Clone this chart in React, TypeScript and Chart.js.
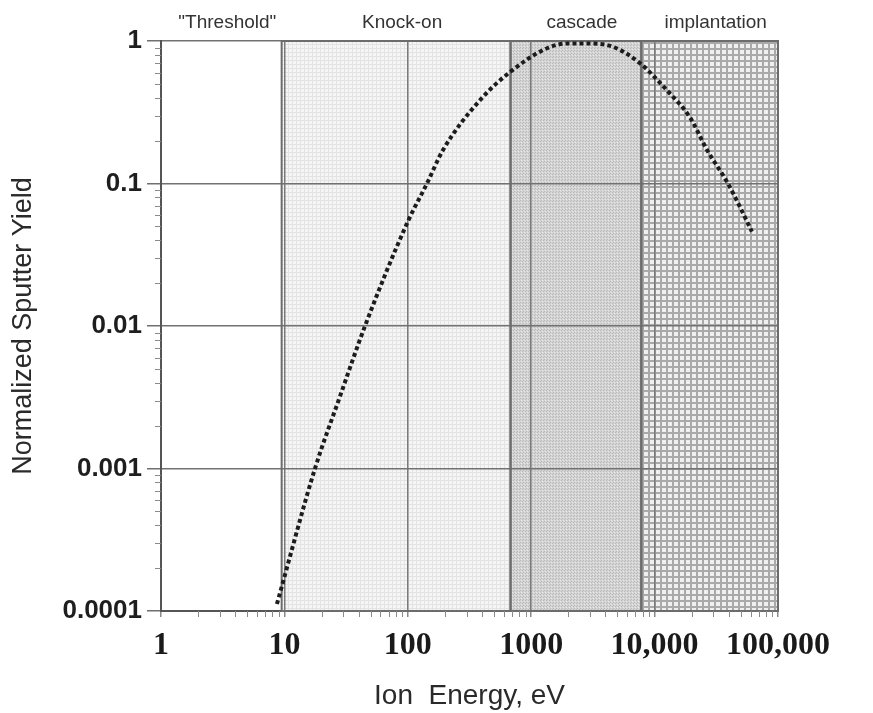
import React, { useEffect, useRef } from "react";
import { Chart, registerables } from "chart.js";

Chart.register(...registerables);

// ---- data ----
const energy = [8.7, 17.7, 28.2, 45, 100, 143, 193, 385, 673, 1343, 1950, 2990, 4600, 7590, 12600, 19400, 26600, 39300, 61500];
const sputterYield = [0.000112, 0.001, 0.0032, 0.01, 0.054, 0.1, 0.172, 0.385, 0.605, 0.89, 0.96, 0.96, 0.91, 0.7, 0.45, 0.29, 0.172, 0.1, 0.046];

const xTickValues = [1, 10, 100, 1000, 10000, 100000];
const xTickLabels = ["1", "10", "100", "1000", "10,000", "100,000"];
const yTickValues = [0.0001, 0.001, 0.01, 0.1, 1];
const yTickLabels = ["0.0001", "0.001", "0.01", "0.1", "1"];
const minorMultipliers = [2, 3, 4, 5, 6, 7, 8, 9];

const regionNames = ['"Threshold"', "Knock-on", "cascade", "implantation"];
const regionStarts = [1, 9.5, 680, 7800];
const regionEnds = [9.5, 680, 7800, 100000];

function makePattern(ctx: CanvasRenderingContext2D, kind: string): CanvasPattern | null {
  const c = document.createElement("canvas");
  const g = c.getContext("2d")!;
  if (kind === "knock") {
    c.width = 4; c.height = 4;
    g.fillStyle = "#f5f5f5"; g.fillRect(0, 0, 4, 4);
    g.fillStyle = "#e3e3e3"; g.fillRect(0, 0, 4, 1); g.fillRect(0, 0, 1, 4);
  } else if (kind === "cascade") {
    c.width = 3; c.height = 3;
    g.fillStyle = "#d4d4d4"; g.fillRect(0, 0, 3, 3);
    g.fillStyle = "#b9b9b9"; g.fillRect(0, 0, 1, 1); g.fillRect(1, 2, 1, 1);
    g.fillStyle = "#e6e6e6"; g.fillRect(2, 1, 1, 1);
  } else {
    c.width = 6; c.height = 6;
    g.fillStyle = "#efefef"; g.fillRect(0, 0, 6, 6);
    g.fillStyle = "#a9a9a9"; g.fillRect(0, 0, 6, 2); g.fillRect(0, 0, 2, 6);
  }
  return ctx.createPattern(c, "repeat");
}

export default function App() {
  const ref = useRef<HTMLCanvasElement>(null);

  useEffect(() => {
    document.body.style.margin = "0";
    const canvas = ref.current!;
    const ctx = canvas.getContext("2d")!;
    const fills = [null, makePattern(ctx, "knock"), makePattern(ctx, "cascade"), makePattern(ctx, "implant")];

    const regionPlugin = {
      id: "regions",
      beforeDraw(chart: any) {
        const { ctx, chartArea: a, scales } = chart;
        const x = scales.x;
        ctx.save();
        ctx.fillStyle = "#ffffff";
        ctx.fillRect(0, 0, chart.width, chart.height);
        regionStarts.forEach((s, i) => {
          const f = fills[i];
          if (!f) return;
          const x0 = x.getPixelForValue(s);
          const x1 = x.getPixelForValue(regionEnds[i]);
          ctx.fillStyle = f;
          ctx.fillRect(x0, a.top, x1 - x0, a.bottom - a.top);
        });
        ctx.restore();
      },
      beforeDatasetsDraw(chart: any) {
        const { ctx, chartArea: a, scales } = chart;
        const x = scales.x, y = scales.y;
        ctx.save();
        // region borders
        ctx.strokeStyle = "#6c6c6c";
        ctx.lineWidth = 2;
        regionStarts.forEach((s, i) => {
          if (i === 0) return;
          const x0 = x.getPixelForValue(s);
          const x1 = x.getPixelForValue(regionEnds[i]);
          ctx.strokeRect(x0, a.top, x1 - x0, a.bottom - a.top);
        });
        // minor ticks
        ctx.strokeStyle = "#8a8a8a";
        ctx.lineWidth = 1;
        for (let d = 0; d < xTickValues.length - 1; d++) {
          minorMultipliers.forEach((m) => {
            const px = Math.round(x.getPixelForValue(xTickValues[d] * m)) + 0.5;
            ctx.beginPath();
            ctx.moveTo(px, a.bottom);
            ctx.lineTo(px, a.bottom + 6);
            ctx.stroke();
          });
        }
        for (let d = 0; d < yTickValues.length - 1; d++) {
          minorMultipliers.forEach((m) => {
            const py = Math.round(y.getPixelForValue(yTickValues[d] * m)) + 0.5;
            ctx.beginPath();
            ctx.moveTo(a.left - 6, py);
            ctx.lineTo(a.left, py);
            ctx.stroke();
          });
        }
        ctx.restore();
      },
      afterDraw(chart: any) {
        const { ctx, chartArea: a, scales } = chart;
        const x = scales.x;
        ctx.save();
        ctx.fillStyle = "#333333";
        ctx.font = "19px 'Liberation Sans', Arial, sans-serif";
        ctx.textAlign = "center";
        ctx.textBaseline = "alphabetic";
        regionNames.forEach((name, i) => {
          const x0 = x.getPixelForValue(regionStarts[i]);
          const x1 = x.getPixelForValue(regionEnds[i]);
          ctx.fillText(name, (x0 + x1) / 2 + 6, a.top - 13);
        });
        ctx.restore();
      },
    };

    const chart = new Chart(canvas, {
      type: "line",
      data: {
        datasets: [
          {
            data: energy.map((e, i) => ({ x: e, y: sputterYield[i] })),
            borderColor: "#1c1c1c",
            borderWidth: 4,
            borderDash: [4, 3],
            pointRadius: 0,
            cubicInterpolationMode: "monotone",
            fill: false,
          },
        ],
      },
      options: {
        animation: false,
        responsive: false,
        layout: { padding: { top: 41, right: 95, bottom: 0, left: 0 } },
        plugins: { legend: { display: false }, tooltip: { enabled: false } },
        scales: {
          x: {
            type: "logarithmic",
            min: 1,
            max: 100000,
            afterBuildTicks: (scale: any) => {
              scale.ticks = xTickValues.map((v) => ({ value: v }));
            },
            afterFit: (scale: any) => {
              scale.height = 102;
            },
            ticks: {
              autoSkip: false,
              maxRotation: 0,
              padding: 10,
              color: "#1a1a1a",
              font: { family: "'Liberation Serif', 'Times New Roman', serif", size: 32, weight: "bold" },
              callback: (_v: any, i: number) => xTickLabels[i],
            },
            grid: { color: "#7a7a7a", lineWidth: 1.5, tickLength: 6, tickColor: "#8a8a8a" },
            border: { display: true, color: "#555555", width: 2 },
            title: {
              display: true,
              text: "Ion  Energy, eV",
              color: "#2a2a2a",
              padding: { top: 0, bottom: 0 },
              font: { family: "'Liberation Sans', Arial, sans-serif", size: 28 },
            },
          },
          y: {
            type: "logarithmic",
            min: 0.0001,
            max: 1,
            afterBuildTicks: (scale: any) => {
              scale.ticks = yTickValues.map((v) => ({ value: v }));
            },
            afterFit: (scale: any) => {
              scale.width = 161;
            },
            ticks: {
              autoSkip: false,
              padding: 5,
              color: "#1e1e1e",
              font: { family: "'Liberation Sans', Arial, sans-serif", size: 26, weight: "bold" },
              callback: (_v: any, i: number) => yTickLabels[i],
            },
            grid: { color: "#727272", lineWidth: 1.5, tickLength: 14, tickColor: "#707070" },
            border: { display: true, color: "#555555", width: 2 },
            title: {
              display: true,
              text: "Normalized Sputter Yield",
              color: "#2a2a2a",
              padding: { top: 7, bottom: 0 },
              font: { family: "'Liberation Sans', Arial, sans-serif", size: 27 },
            },
          },
        },
      },
      plugins: [regionPlugin],
    } as any);

    return () => chart.destroy();
  }, []);

  return (
    <div style={{ width: 873, height: 713 }}>
      <canvas ref={ref} width={873} height={713} style={{ display: "block", width: 873, height: 713 }} />
    </div>
  );
}
